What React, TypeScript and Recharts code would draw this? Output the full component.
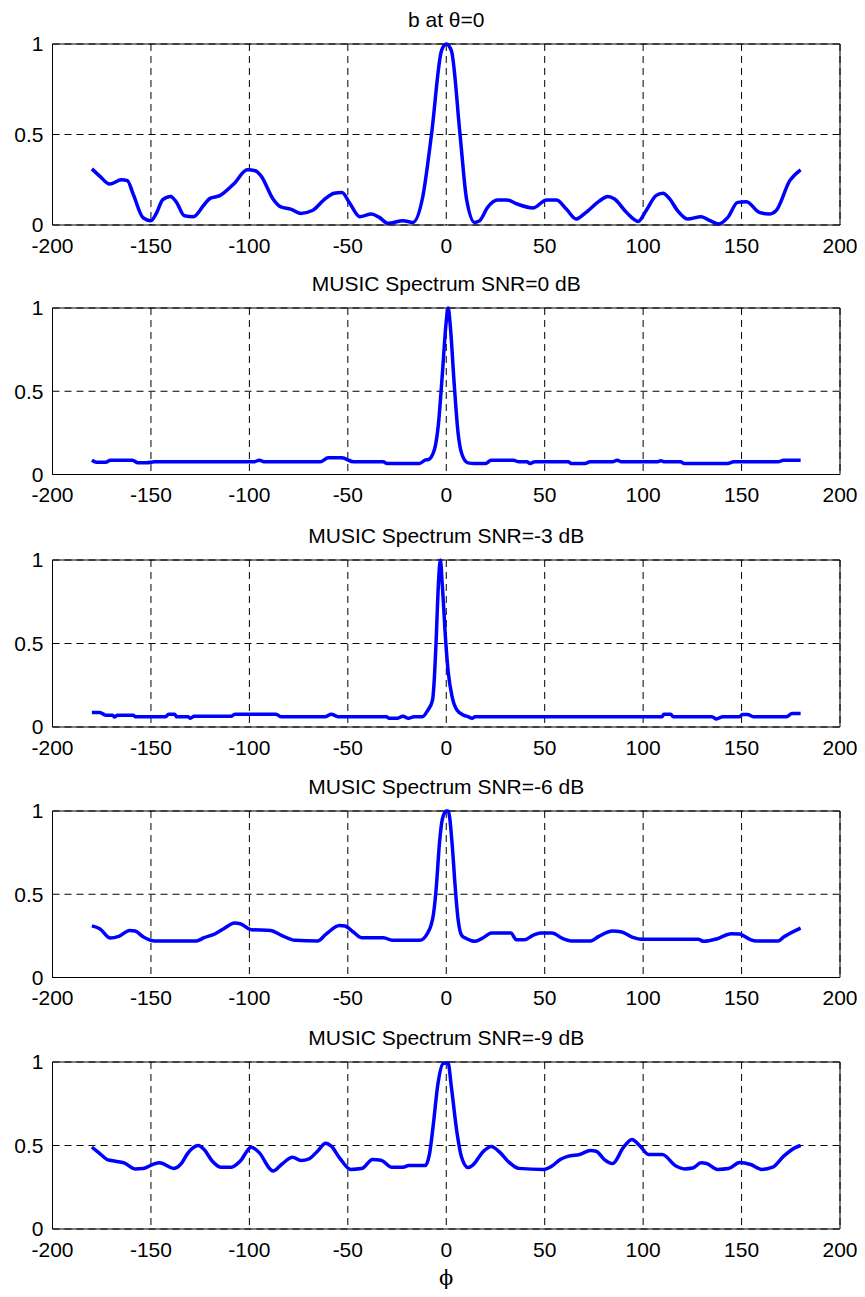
import { CartesianGrid, Line, LineChart, ReferenceArea, XAxis, YAxis } from 'recharts';

const X_TICKS = [-200, -150, -100, -50, 0, 50, 100, 150, 200];
const Y_TICKS = [0, 0.5, 1];

const TITLES = [
  'b at θ=0',
  'MUSIC Spectrum SNR=0 dB',
  'MUSIC Spectrum SNR=-3 dB',
  'MUSIC Spectrum SNR=-6 dB',
  'MUSIC Spectrum SNR=-9 dB',
];

// b at theta=0
const phiB = [-180, -176, -171, -165, -162, -159, -154, -150, -147, -144, -140, -137, -133, -128.5, -123, -120, -115, -108, -101, -97, -94, -88, -84, -79, -74, -68, -62, -57, -53, -49, -44, -38, -34, -29.5, -22, -17, -12, -7.5, -2.4, 0, 2.6, 7, 10.3, 14.5, 17, 21, 26, 31, 36, 44, 51, 56, 61, 66, 70, 78, 82, 85.5, 91.5, 97.5, 101.5, 106.5, 110, 113.5, 117.5, 122.5, 129.5, 134, 138.5, 143, 148, 152.5, 159, 164, 167.5, 174.5, 180];
const valB = [0.31, 0.27, 0.226, 0.25, 0.245, 0.17, 0.04, 0.024, 0.07, 0.14, 0.158, 0.125, 0.051, 0.046, 0.112, 0.147, 0.162, 0.226, 0.305, 0.3, 0.27, 0.144, 0.1, 0.088, 0.064, 0.08, 0.14, 0.175, 0.18, 0.12, 0.046, 0.061, 0.042, 0.009, 0.024, 0.014, 0.152, 0.5, 0.963, 1.0, 0.963, 0.5, 0.144, 0.014, 0.024, 0.097, 0.138, 0.138, 0.116, 0.094, 0.138, 0.138, 0.088, 0.033, 0.061, 0.134, 0.158, 0.144, 0.07, 0.02, 0.079, 0.162, 0.175, 0.144, 0.079, 0.033, 0.046, 0.024, 0.006, 0.042, 0.125, 0.129, 0.07, 0.061, 0.079, 0.245, 0.305];

// SNR = 0 dB
const phi0 = [-180, -177.6, -173, -170.6, -159.4, -156.6, -152.3, -148, -97.7, -95, -92, -64, -60, -53, -47, -32, -30, -13.6, -10.8, -9, -6, -4, -2, 0, 1, 2, 4, 6, 8, 11, 14.4, 20, 22.8, 34, 36.9, 41, 42.5, 45, 62, 63.5, 70.5, 73, 84.5, 86.8, 89, 107, 109, 111, 119, 121, 143, 146, 168.5, 171.4, 180];
const val0 = [0.086, 0.074, 0.074, 0.086, 0.086, 0.07, 0.07, 0.076, 0.076, 0.086, 0.076, 0.076, 0.1, 0.1, 0.076, 0.076, 0.066, 0.066, 0.086, 0.09, 0.15, 0.3, 0.6, 0.92, 1.0, 0.9, 0.55, 0.25, 0.12, 0.07, 0.066, 0.066, 0.086, 0.086, 0.076, 0.076, 0.066, 0.076, 0.076, 0.066, 0.066, 0.076, 0.076, 0.086, 0.076, 0.076, 0.082, 0.076, 0.076, 0.066, 0.066, 0.076, 0.076, 0.086, 0.086];

// SNR = -3 dB
const phi3 = [-180, -176, -173, -169.5, -168.6, -167, -159, -158, -142.5, -141, -138, -137, -131, -130, -128, -109, -107.5, -86.5, -84, -61.6, -58.4, -55, -30.4, -29, -25, -22, -19.2, -16.4, -12.2, -9.4, -7, -6, -5.2, -4, -3, -2, -0.2, 1, 3, 5.5, 9, 11, 13.2, 14.6, 109.7, 110.5, 114, 115.3, 135, 137.2, 140.5, 149, 150.4, 153, 156, 173, 175.6, 180];
const val3 = [0.087, 0.087, 0.071, 0.071, 0.06, 0.071, 0.071, 0.062, 0.062, 0.077, 0.077, 0.062, 0.062, 0.052, 0.065, 0.065, 0.077, 0.077, 0.062, 0.062, 0.077, 0.062, 0.062, 0.052, 0.052, 0.065, 0.052, 0.062, 0.062, 0.1, 0.16, 0.3, 0.5, 0.85, 1.0, 0.85, 0.5, 0.33, 0.18, 0.1, 0.07, 0.062, 0.052, 0.062, 0.062, 0.077, 0.077, 0.062, 0.062, 0.048, 0.062, 0.062, 0.075, 0.075, 0.062, 0.062, 0.081, 0.081];

// SNR = -6 dB
const phi6 = [-180, -176, -170.6, -166.4, -160.8, -158, -153.8, -148, -127, -123, -117.3, -113, -107.5, -104.7, -99, -89.3, -83.7, -76.7, -65.4, -61.2, -54.2, -51.4, -47.2, -43, -31.8, -27.5, -13.5, -9.3, -6.5, -5, -3.5, -2, 0, 1, 3, 4.5, 6, 8, 10.4, 14.6, 18.8, 23, 28.6, 32.8, 35.6, 39.8, 44, 48, 53.7, 59.3, 63.5, 73.3, 77.5, 84.5, 88.7, 94.4, 100, 128, 130.8, 137.7, 144.7, 148.9, 154.5, 157.4, 168.6, 171.4, 180];
const val6 = [0.31, 0.293, 0.237, 0.247, 0.283, 0.279, 0.243, 0.219, 0.219, 0.239, 0.263, 0.293, 0.327, 0.323, 0.287, 0.283, 0.253, 0.223, 0.219, 0.259, 0.313, 0.309, 0.273, 0.239, 0.239, 0.223, 0.223, 0.27, 0.38, 0.55, 0.8, 0.95, 1.0, 1.0, 0.8, 0.55, 0.35, 0.25, 0.233, 0.217, 0.239, 0.267, 0.267, 0.267, 0.227, 0.227, 0.253, 0.267, 0.267, 0.233, 0.219, 0.219, 0.247, 0.279, 0.275, 0.243, 0.229, 0.229, 0.217, 0.233, 0.263, 0.261, 0.227, 0.219, 0.219, 0.243, 0.297];

// SNR = -9 dB
const phi9 = [-180, -176.4, -172.2, -168, -163.7, -158.1, -153.9, -148.3, -145.5, -138.5, -134.3, -131.5, -125.9, -123, -118.8, -114.6, -109, -104.7, -99, -94.9, -89.3, -88, -83.7, -78.1, -73.9, -69.7, -65.4, -61.2, -58.4, -54.2, -48.6, -43, -37.4, -33.2, -27.6, -21.9, -19.1, -10.7, -8.5, -6.7, -4.2, -1.6, 0.9, 2.6, 5.5, 7.7, 11.1, 13.6, 18.7, 22.9, 27.1, 31.3, 36.9, 49.5, 53.7, 57.9, 62.1, 67.7, 73.3, 76.1, 80.3, 84.5, 90.1, 94.3, 98.5, 102.7, 109.7, 116.7, 121, 125.2, 129.4, 132.2, 137.8, 143.4, 149, 154.6, 160.2, 165.8, 171.4, 177, 180];
const val9 = [0.49, 0.456, 0.416, 0.406, 0.396, 0.36, 0.362, 0.39, 0.396, 0.363, 0.396, 0.45, 0.5, 0.476, 0.406, 0.37, 0.37, 0.406, 0.49, 0.456, 0.357, 0.347, 0.386, 0.43, 0.41, 0.42, 0.466, 0.514, 0.496, 0.426, 0.357, 0.362, 0.416, 0.412, 0.37, 0.37, 0.38, 0.38, 0.45, 0.612, 0.871, 0.99, 0.995, 0.85, 0.573, 0.433, 0.368, 0.384, 0.463, 0.494, 0.46, 0.406, 0.363, 0.357, 0.377, 0.416, 0.436, 0.446, 0.47, 0.466, 0.416, 0.392, 0.49, 0.536, 0.496, 0.446, 0.446, 0.377, 0.36, 0.365, 0.396, 0.392, 0.357, 0.362, 0.398, 0.386, 0.357, 0.37, 0.436, 0.486, 0.5];

const PHIS = [phiB, phi0, phi3, phi6, phi9];
const VALS = [valB, val0, val3, val6, val9];

const PLOT_TOPS = [43.5, 308, 559.5, 811, 1062];
const PLOT_HEIGHTS = [181, 166.5, 167, 166.5, 167];

const FONT = '"Liberation Sans", Arial, Helvetica, sans-serif';
const LEFT = 52.5;
const RIGHT = 840;
const W = 865;

function Panel({ idx }: { idx: number }) {
  const data = PHIS[idx].map((p, i) => ({ phi: p, v: VALS[idx][i] }));
  const plotH = PLOT_HEIGHTS[idx];
  const mt = 14;
  const mb = 40;
  const h = plotH + mt + mb;
  const tickStyle = { fontSize: 21, fill: '#000', fontFamily: FONT };
  return (
    <div style={{ position: 'absolute', left: 0, top: PLOT_TOPS[idx] - mt, width: W, height: h }}>
      <LineChart width={W} height={h} data={data} margin={{ top: mt, right: W - RIGHT, bottom: 0, left: 0 }}>
        <CartesianGrid stroke="#000" strokeDasharray="7 5" strokeWidth={1} />
        <XAxis
          type="number"
          dataKey="phi"
          domain={[-200, 200]}
          ticks={X_TICKS}
          allowDataOverflow
          height={mb}
          axisLine={false}
          tickLine={false}
          tickSize={0}
          tickMargin={13}
          tick={tickStyle}
          interval={0}
        />
        <YAxis
          type="number"
          domain={[0, 1]}
          ticks={Y_TICKS}
          width={LEFT}
          axisLine={false}
          tickLine={false}
          tickSize={0}
          tickMargin={9}
          tick={tickStyle}
          interval={0}
        />
        <ReferenceArea x1={-200} x2={200} y1={0} y2={1} fill="none" stroke="#000" strokeWidth={1} ifOverflow="visible" />
        <Line
          type="monotone"
          dataKey="v"
          stroke="#0000ff"
          strokeWidth={3.5}
          dot={false}
          isAnimationActive={false}
        />
      </LineChart>
      <div
        style={{
          position: 'absolute',
          left: LEFT,
          width: RIGHT - LEFT,
          top: mt - 16.5 - 19.3,
          lineHeight: '24px',
          textAlign: 'center',
          fontFamily: FONT,
          fontSize: 21,
          color: '#000',
          whiteSpace: 'nowrap',
        }}
      >
        {TITLES[idx]}
      </div>
    </div>
  );
}

export default function App() {
  return (
    <div style={{ position: 'relative', width: W, height: 1297, margin: -8, background: '#fff', overflow: 'hidden' }}>
      {TITLES.map((_, i) => (
        <Panel key={i} idx={i} />
      ))}
      <div
        style={{
          position: 'absolute',
          left: LEFT,
          width: RIGHT - LEFT,
          top: 1266,
          lineHeight: '24px',
          textAlign: 'center',
          fontFamily: '"DejaVu Serif", "Liberation Serif", serif',
          fontSize: 21,
          color: '#000',
        }}
      >
        ϕ
      </div>
    </div>
  );
}
